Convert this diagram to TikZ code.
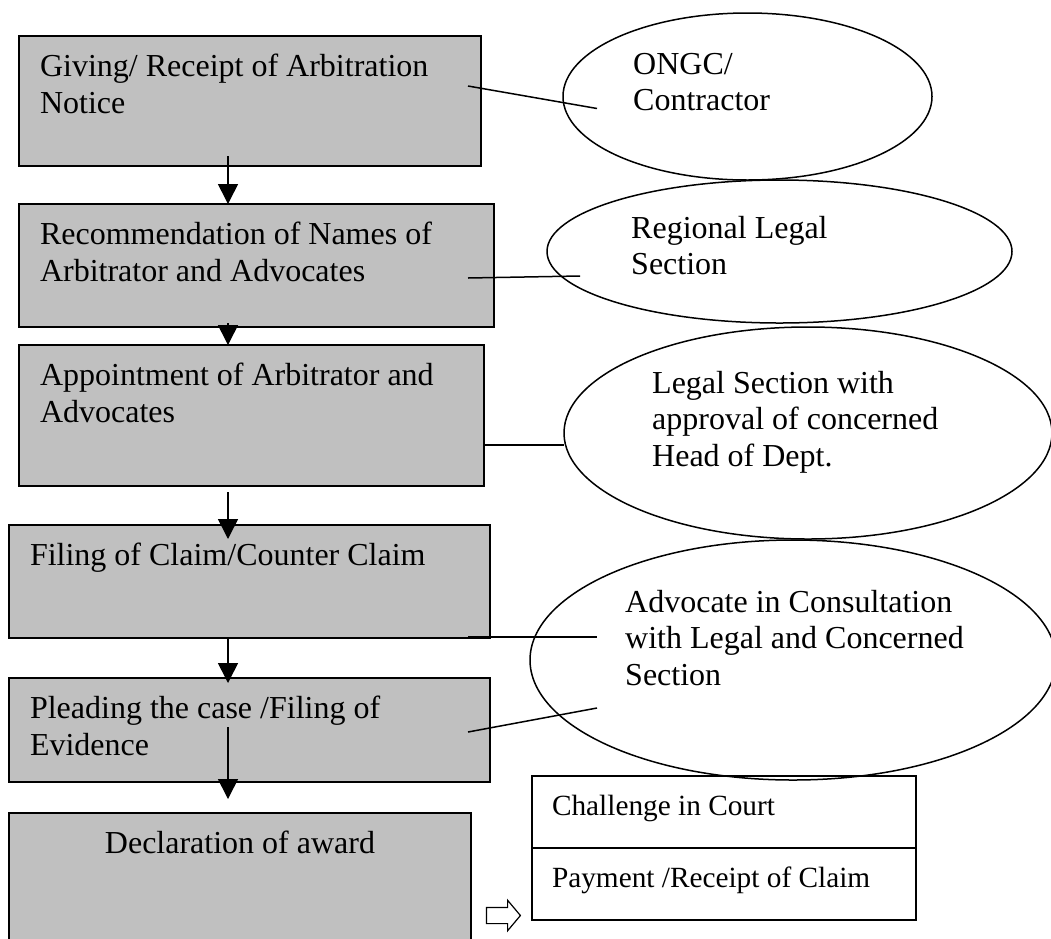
\documentclass[tikz,border=0pt]{standalone}
\usepackage{fontspec}
\setmainfont{Liberation Serif}
\usetikzlibrary{shapes, arrows.meta, positioning, calc}

\definecolor{boxgray}{RGB}{192,192,192}

\begin{document}
\begin{tikzpicture}[
    x=1pt, y=-1pt,
    font=\fontsize{32}{36.8}\selectfont,
    >={Triangle[length=20pt, width=20pt]},
    % --- styles ---
    % grey process steps
    stage/.style={draw, fill=boxgray, line width=1.8pt, inner xsep=21pt, inner ysep=15pt, outer sep=0pt, anchor=north west},
    % who does the step
    actor/.style={draw, ellipse, line width=1.5pt, inner sep=0pt, outer sep=0pt},
    actortext/.style={inner sep=0pt, anchor=base west},
    % outcome box
    result/.style={draw, line width=1.5pt, inner xsep=20pt, inner ysep=15.4pt, outer sep=0pt, anchor=north west, font=\fontsize{29.3}{33.7}\selectfont},
    % arrows and lines
    flow/.style={->, line width=1.6pt},
    link/.style={line width=1.5pt},
    hollow/.style={draw, single arrow, line width=1.2pt, minimum height=34pt, minimum width=25pt, inner sep=7.5pt, single arrow tip angle=100}
]

\fill[white] (0,0) rectangle (1051,938);
\useasboundingbox (0,0) rectangle (1051,938);
\clip (0,0) rectangle (1051,938);

% --- 1. Process steps ---
\node[stage] (give) at (19,36) {\parbox[c][100pt][t]{420pt}{\strut Giving/ Receipt of Arbitration\\Notice}};

\node[stage, below=38pt of give.south west, anchor=north west] (rec) {\parbox[c][93pt][t]{433pt}{\strut Recommendation of Names of\\Arbitrator and Advocates}};

\node[stage, below=18pt of rec.south west, anchor=north west] (appoint) {\parbox[c][111pt][t]{423pt}{\strut Appointment of Arbitrator and\\Advocates}};

\node[stage, below=39pt of appoint.south west, anchor=north west, xshift=-10pt] (claim) {\parbox[c][83pt][t]{439pt}{\strut Filing of Claim/Counter Claim}};

\node[stage, below=40pt of claim.south west, anchor=north west] (plead) {\parbox[c][74pt][t]{439pt}{\strut Pleading the case /Filing of\\Evidence}};

\node[stage, below=31pt of plead.south west, anchor=north west] (award) {\parbox[c][120pt][t]{420pt}{\centering\strut Declaration of award}};

% --- 2. Outcome ---
\node[result] (court) at (532,776) {\parbox[c][41.2pt][t]{344pt}{\strut Challenge in Court}};
\node[result, below=0pt of court.south west, anchor=north west] (pay) {\parbox[c][41.2pt][t]{344pt}{\strut Payment /Receipt of Claim}};

\node[hollow] (toresult) at (500,915.5) {};

% --- 3. Responsible parties ---
\node[actor, minimum width=369pt, minimum height=167pt] (ongc) at (747.5,96.5) {};
\node[actortext] (ongc-txt) at ([shift={(-114.5,-22.5)}]ongc.center) {\parbox[t]{360pt}{ONGC/\\Contractor}};

\node[actor, minimum width=465pt, minimum height=143pt] (regional) at (779.5,251.5) {};
\node[actortext] (regional-txt) at ([shift={(-148.5,-13.5)}]regional.center) {\parbox[t]{360pt}{Regional Legal\\Section}};

\node[actor, minimum width=488pt, minimum height=212pt] (legal) at (808,433) {};
\node[actortext] (legal-txt) at ([shift={(-156,-40)}]legal.center) {\parbox[t]{360pt}{Legal Section with\\approval of concerned\\Head of Dept.}};

\node[actor, minimum width=526pt, minimum height=240pt] (advocate) at (793,660) {};
\node[actortext] (advocate-txt) at ([shift={(-168,-48)}]advocate.center) {\parbox[t]{360pt}{Advocate in Consultation\\with Legal and Concerned\\Section}};

% --- 4. Links to parties ---
\draw[link] ([shift={(-13,-15)}]give.east) -- ([shift={(34,12)}]ongc.west);
\draw[link] ([shift={(-26,12.5)}]rec.east) -- ([shift={(33,24.5)}]regional.west);
\draw[link] ([shift={(0,29.5)}]appoint.east) -- ([shift={(0,12)}]legal.west);
\draw[link] ([shift={(-22,55.5)}]claim.east) -- ([shift={(67,-23)}]advocate.west);
\draw[link] ([shift={(-22,2)}]plead.east) -- ([shift={(67,48)}]advocate.west);

% --- 5. Flow arrows ---
\coordinate (spine) at (228,0);
\draw[flow] ($(spine |- give.south)+(0,-10)$) -- (spine |- rec.north);
\draw[flow] ($(spine |- rec.south)+(0,-4)$) -- (spine |- appoint.north);
\draw[flow] ($(spine |- appoint.south)+(0,6)$) -- ($(spine |- claim.north)+(0,14)$);
\draw[flow] ($(spine |- claim.south)+(0,-1)$) -- ($(spine |- plead.north)+(0,5)$);
\draw[flow] ($(spine |- plead.south)+(0,-55)$) -- ($(spine |- award.north)+(0,-14)$);

\end{tikzpicture}
\end{document}
